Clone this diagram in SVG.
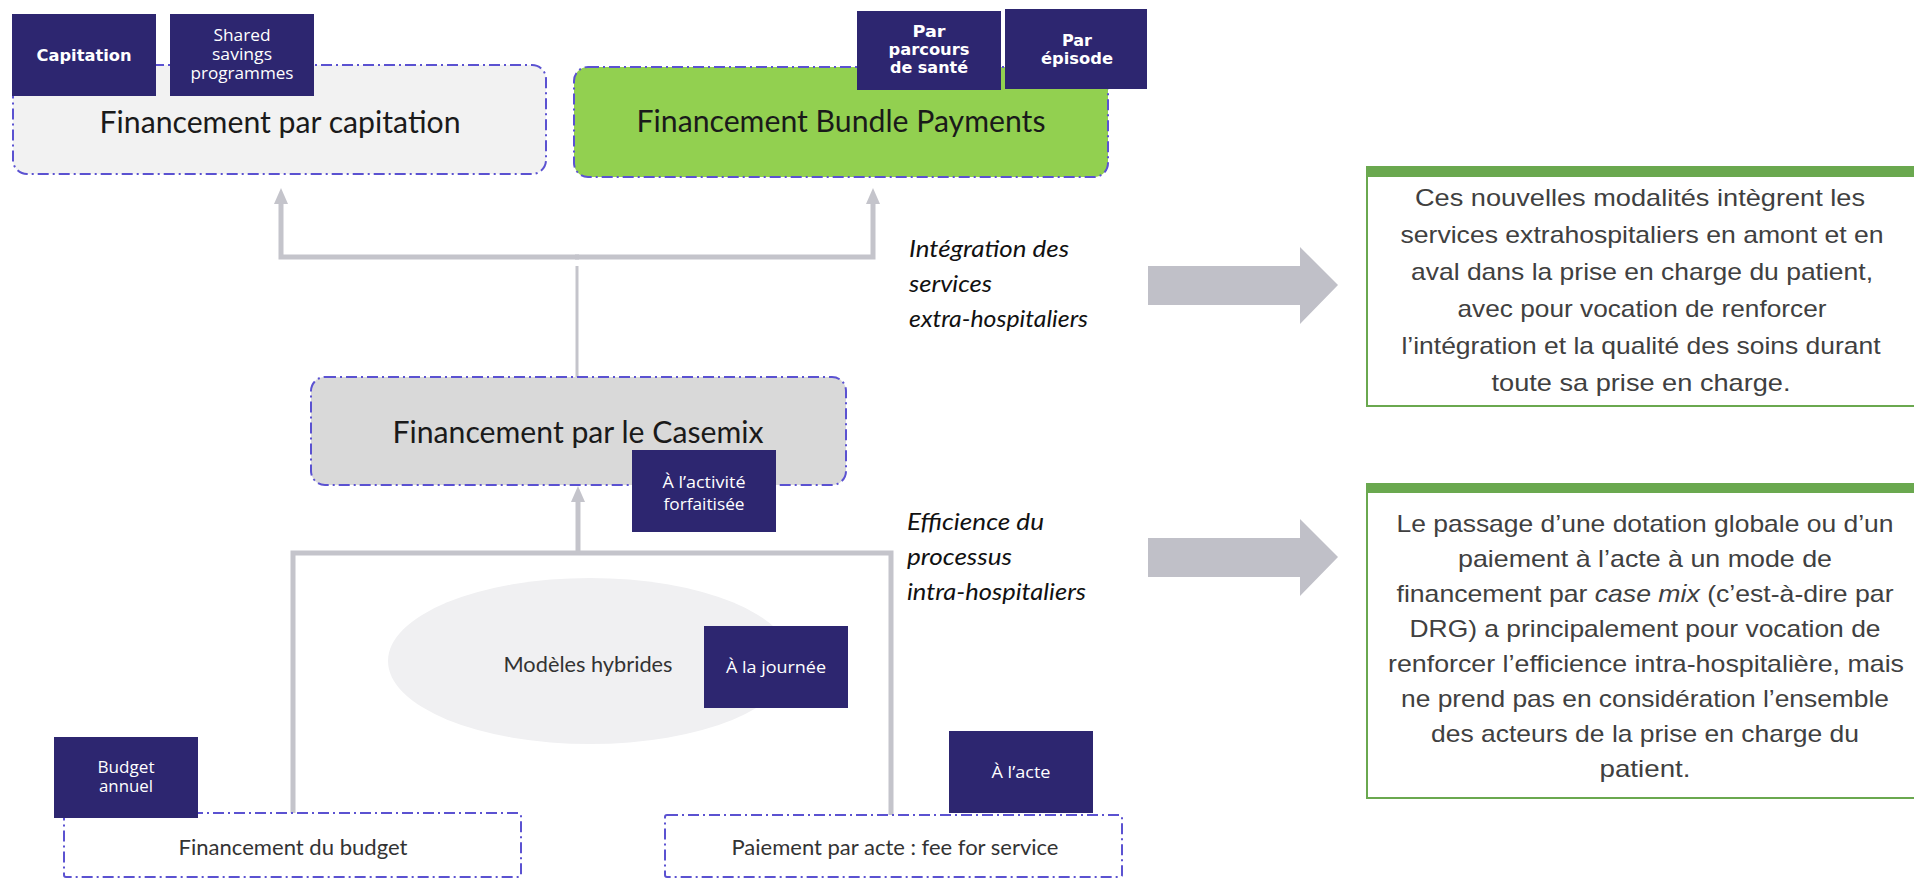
<svg xmlns="http://www.w3.org/2000/svg" width="1914" height="879" viewBox="0 0 1914 879">
<style>
.bg{fill:#ffffff}
.dash{stroke:#5b52d1;stroke-width:2;stroke-dasharray:11 4 2 4}
.tag{fill:#2d2670}
.tw{fill:#ffffff;font-family:"Open Sans","Liberation Sans",sans-serif;font-size:16px;text-anchor:middle}
.twb{fill:#ffffff;font-family:"DejaVu Sans","Liberation Sans",sans-serif;font-size:16px;font-weight:bold;text-anchor:middle}
.big{fill:#1a1a1a;font-family:Lato,"Liberation Sans",sans-serif;font-size:30px;text-anchor:middle}
.mid{fill:#333333;font-family:Lato,"Liberation Sans",sans-serif;font-size:22px;text-anchor:middle}
.lab{fill:#111111;font-family:Lato,"Liberation Sans",sans-serif;font-size:23px;font-style:italic}
.conn{fill:none;stroke:#c4c4cb;stroke-width:5}
.thin{fill:none;stroke:#c4c4cb;stroke-width:3}
.bigarrow{fill:#c0c0c8}
.note{fill:#ffffff;stroke:#6aa84f;stroke-width:2}
.bar{fill:#6aa84f}
.nt{fill:#404040;font-family:"Liberation Sans",Arial,sans-serif;font-size:24px;text-anchor:middle}
</style>
<defs>
<marker id="ah" viewBox="0 0 16 14" refX="2" refY="7" markerWidth="16" markerHeight="14" markerUnits="userSpaceOnUse" orient="auto">
<path d="M0,0 L16,7 L0,14 z" fill="#c4c4cb"/>
</marker>
</defs>
<rect class="bg" x="0" y="0" width="1914" height="879"/>

<g id="connectors">
<path class="conn" d="M579,257 H281 V202" marker-end="url(#ah)"/>
<path class="conn" d="M575,257 H873 V202" marker-end="url(#ah)"/>
<path class="thin" d="M577,266 V377"/>
<path class="conn" d="M578,553 V500" marker-end="url(#ah)"/>
<path class="conn" d="M293,813 V553 H891 V815"/>
<polygon class="bigarrow" points="1148,266 1300,266 1300,247 1338,285 1300,324 1300,305 1148,305"/>
<polygon class="bigarrow" points="1148,538 1300,538 1300,519 1338,557 1300,596 1300,577 1148,577"/>
</g>

<g id="capitation">
<rect class="dash" x="13" y="65" width="533" height="109" rx="14" fill="#f2f2f2"/>
<text class="big" x="280" y="133" textLength="361" lengthAdjust="spacingAndGlyphs">Financement par capitation</text>
</g>
<g id="tag-capitation">
<rect class="tag" x="12" y="14" width="144" height="82"/>
<text class="twb" x="84" y="61" font-size="17" textLength="95" lengthAdjust="spacingAndGlyphs">Capitation</text>
</g>
<g id="tag-shared">
<rect class="tag" x="170" y="14" width="144" height="82"/>
<text class="tw" x="242" y="41" font-size="15" textLength="57" lengthAdjust="spacingAndGlyphs">Shared</text>
<text class="tw" x="242" y="60" font-size="15" textLength="60" lengthAdjust="spacingAndGlyphs">savings</text>
<text class="tw" x="242" y="79" font-size="15" textLength="103" lengthAdjust="spacingAndGlyphs">programmes</text>
</g>

<g id="bundle">
<rect class="dash" x="574" y="67" width="534" height="110" rx="14" fill="#92d050"/>
<text class="big" x="841" y="132" textLength="409" lengthAdjust="spacingAndGlyphs">Financement Bundle Payments</text>
</g>
<g id="tag-parcours">
<rect class="tag" x="857" y="11" width="144" height="79"/>
<text class="twb" x="929" y="37" textLength="33" lengthAdjust="spacingAndGlyphs">Par</text>
<text class="twb" x="929" y="55" textLength="81" lengthAdjust="spacingAndGlyphs">parcours</text>
<text class="twb" x="929" y="73" textLength="78" lengthAdjust="spacingAndGlyphs">de santé</text>
</g>
<g id="tag-episode">
<rect class="tag" x="1005" y="9" width="142" height="80"/>
<text class="twb" x="1077" y="46" textLength="30" lengthAdjust="spacingAndGlyphs">Par</text>
<text class="twb" x="1077" y="64" textLength="72" lengthAdjust="spacingAndGlyphs">épisode</text>
</g>

<g id="casemix">
<rect class="dash" x="311" y="377" width="535" height="108" rx="14" fill="#d9d9d9"/>
<text class="big" x="578" y="443" textLength="371" lengthAdjust="spacingAndGlyphs">Financement par le Casemix</text>
</g>
<g id="tag-activite">
<rect class="tag" x="632" y="450" width="144" height="82"/>
<text class="tw" x="704" y="488" textLength="83" lengthAdjust="spacingAndGlyphs">À l’activité</text>
<text class="tw" x="704" y="510" textLength="81" lengthAdjust="spacingAndGlyphs">forfaitisée</text>
</g>

<g id="hybrides">
<ellipse cx="590" cy="661" rx="202" ry="83" fill="#f0f0f2"/>
<text class="mid" x="588" y="672" textLength="169" lengthAdjust="spacingAndGlyphs">Modèles hybrides</text>
</g>
<g id="tag-journee">
<rect class="tag" x="704" y="626" width="144" height="82"/>
<text class="tw" x="776" y="673" font-size="18" textLength="100" lengthAdjust="spacingAndGlyphs">À la journée</text>
</g>

<g id="budget">
<rect class="dash" x="64" y="813" width="457" height="64" rx="2" fill="none"/>
<text class="mid" x="293" y="855" textLength="229" lengthAdjust="spacingAndGlyphs">Financement du budget</text>
</g>
<g id="tag-budget">
<rect class="tag" x="54" y="737" width="144" height="81"/>
<text class="tw" x="126" y="773" textLength="57" lengthAdjust="spacingAndGlyphs">Budget</text>
<text class="tw" x="126" y="792" textLength="54" lengthAdjust="spacingAndGlyphs">annuel</text>
</g>

<g id="acte">
<rect class="dash" x="665" y="815" width="457" height="62" rx="2" fill="none"/>
<text class="mid" x="895" y="855" textLength="327" lengthAdjust="spacingAndGlyphs">Paiement par acte : fee for service</text>
</g>
<g id="tag-acte">
<rect class="tag" x="949" y="731" width="144" height="82"/>
<text class="tw" x="1021" y="778" font-size="18" textLength="59" lengthAdjust="spacingAndGlyphs">À l’acte</text>
</g>

<g id="label-integration">
<text class="lab" x="909" y="257" textLength="160" lengthAdjust="spacingAndGlyphs">Intégration des</text>
<text class="lab" x="909" y="292" textLength="83" lengthAdjust="spacingAndGlyphs">services</text>
<text class="lab" x="909" y="327" textLength="179" lengthAdjust="spacingAndGlyphs">extra-hospitaliers</text>
</g>
<g id="label-efficience">
<text class="lab" x="907" y="530" textLength="137" lengthAdjust="spacingAndGlyphs">Efficience du</text>
<text class="lab" x="907" y="565" textLength="105" lengthAdjust="spacingAndGlyphs">processus</text>
<text class="lab" x="907" y="600" textLength="179" lengthAdjust="spacingAndGlyphs">intra-hospitaliers</text>
</g>

<g id="note-integration">
<rect class="note" x="1367" y="172" width="560" height="234"/>
<rect class="bar" x="1366" y="166" width="548" height="11"/>
<text class="nt" x="1640" y="206" textLength="450" lengthAdjust="spacingAndGlyphs">Ces nouvelles modalités intègrent les</text>
<text class="nt" x="1642" y="243" textLength="483" lengthAdjust="spacingAndGlyphs">services extrahospitaliers en amont et en</text>
<text class="nt" x="1642" y="280" textLength="462" lengthAdjust="spacingAndGlyphs">aval dans la prise en charge du patient,</text>
<text class="nt" x="1642" y="317" textLength="369" lengthAdjust="spacingAndGlyphs">avec pour vocation de renforcer</text>
<text class="nt" x="1641" y="354" textLength="479" lengthAdjust="spacingAndGlyphs">l’intégration et la qualité des soins durant</text>
<text class="nt" x="1641" y="391" textLength="299" lengthAdjust="spacingAndGlyphs">toute sa prise en charge.</text>
</g>

<g id="note-efficience">
<rect class="note" x="1367" y="488" width="560" height="310"/>
<rect class="bar" x="1366" y="483" width="548" height="10"/>
<text class="nt" x="1645" y="532" textLength="497" lengthAdjust="spacingAndGlyphs">Le passage d’une dotation globale ou d’un</text>
<text class="nt" x="1645" y="567" textLength="374" lengthAdjust="spacingAndGlyphs">paiement à l’acte à un mode de</text>
<text class="nt" x="1645" y="602" textLength="497" lengthAdjust="spacingAndGlyphs">financement par <tspan font-style="italic">case mix</tspan> (c’est-à-dire par</text>
<text class="nt" x="1645" y="637" textLength="471" lengthAdjust="spacingAndGlyphs">DRG) a principalement pour vocation de</text>
<text class="nt" x="1646" y="672" textLength="516" lengthAdjust="spacingAndGlyphs">renforcer l’efficience intra-hospitalière, mais</text>
<text class="nt" x="1645" y="707" textLength="488" lengthAdjust="spacingAndGlyphs">ne prend pas en considération l’ensemble</text>
<text class="nt" x="1645" y="742" textLength="428" lengthAdjust="spacingAndGlyphs">des acteurs de la prise en charge du</text>
<text class="nt" x="1645" y="777" textLength="91" lengthAdjust="spacingAndGlyphs">patient.</text>
</g>
</svg>
